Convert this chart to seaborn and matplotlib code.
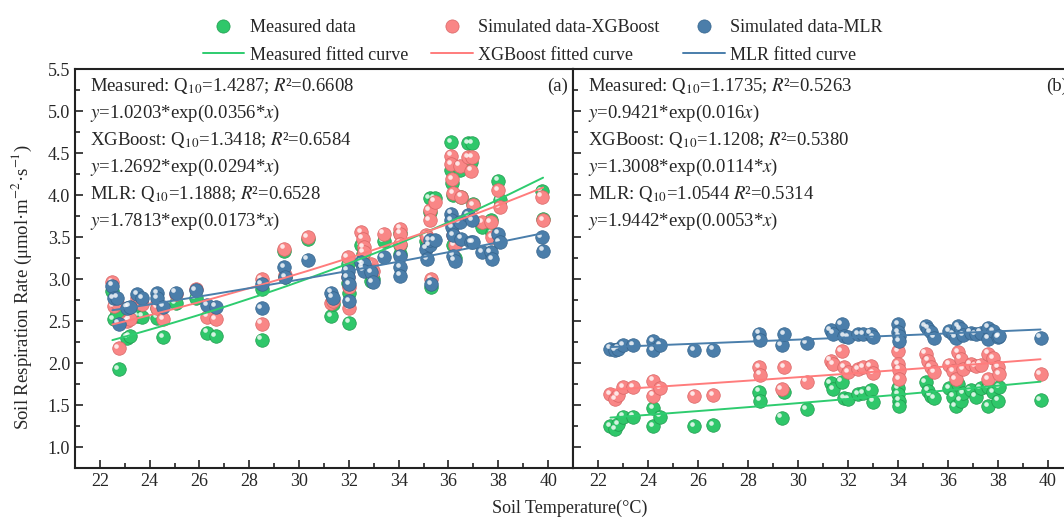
import numpy as np
import pandas as pd
import matplotlib
matplotlib.use('Agg')
import matplotlib.pyplot as plt
import matplotlib.transforms as mtransforms
from matplotlib.lines import Line2D
from matplotlib.ticker import MultipleLocator, FormatStrFormatter
import seaborn as sns

sns.set_style('ticks')
plt.rcParams['font.family'] = ['Liberation Serif', 'DejaVu Serif']
plt.rcParams['mathtext.fontset'] = 'stix'

# ---- panel (a): values ----
temp_a = [22.5, 22.55, 22.7, 22.75, 23.1, 23.2, 23.5, 23.7, 24.3, 24.3, 24.55, 25.05, 25.85,
          26.3, 26.65, 28.5, 28.5, 29.4, 29.45, 30.35, 31.3, 31.35, 31.95, 31.95, 32.0, 32.0,
          32.5, 32.55, 32.6, 32.6, 32.9, 32.95, 33.4, 34.05, 34.05, 34.05, 35.1, 35.15, 35.25,
          35.25, 35.3, 35.45, 36.1, 36.1, 36.15, 36.2, 36.2, 36.25, 36.45, 36.5, 36.8, 36.95,
          36.9, 37.0, 37.35, 37.7, 37.75, 38.0, 38.05, 39.75, 39.8]
meas_a = [2.86, 2.52, 2.60, 1.93, 2.30, 2.32, 2.56, 2.55, 2.65, 2.54, 2.31, 2.71, 2.77,
          2.36, 2.32, 2.88, 2.28, 3.33, 3.02, 3.48, 2.56, 2.70, 3.18, 2.95, 2.84, 2.48,
          3.40, 3.30, 3.20, 3.15, 2.98, 3.00, 3.45, 3.55, 3.40, 3.30, 3.45, 3.40, 3.96,
          3.80, 2.90, 3.96, 4.63, 4.30, 4.15, 4.00, 3.40, 3.25, 4.30, 3.98, 4.62, 4.62,
          4.40, 3.90, 3.62, 3.70, 3.55, 4.17, 3.94, 4.05, 3.72]
xgb_a = [2.96, 2.68, 2.72, 2.18, 2.50, 2.52, 2.78, 2.70, 2.71, 2.66, 2.52, 2.82, 2.88,
         2.55, 2.52, 3.00, 2.47, 3.36, 3.05, 3.50, 2.71, 2.74, 3.26, 3.02, 2.90, 2.65,
         3.56, 3.48, 3.38, 3.32, 3.18, 3.10, 3.54, 3.60, 3.54, 3.42, 3.52, 3.50, 3.82,
         3.70, 3.00, 3.92, 4.47, 4.37, 4.19, 4.02, 3.52, 3.40, 4.35, 3.98, 4.45, 4.45,
         4.29, 3.88, 3.68, 3.68, 3.50, 4.06, 3.86, 3.98, 3.70]
mlr_a = [2.92, 2.77, 2.78, 2.47, 2.66, 2.67, 2.82, 2.77, 2.83, 2.77, 2.67, 2.84, 2.87,
         2.69, 2.67, 2.94, 2.65, 3.14, 3.02, 3.23, 2.84, 2.78, 3.10, 3.02, 2.94, 2.74,
         3.20, 3.14, 3.18, 3.10, 3.08, 2.96, 3.26, 3.28, 3.14, 3.04, 3.36, 3.24, 3.40,
         3.46, 2.94, 3.46, 3.78, 3.70, 3.62, 3.52, 3.28, 3.22, 3.68, 3.48, 3.76, 3.70,
         3.44, 3.44, 3.32, 3.32, 3.24, 3.54, 3.44, 3.50, 3.34]

# ---- panel (b) ----
temp_b = [22.5, 22.7, 22.8, 23.0, 23.4, 24.2, 24.2, 24.5, 25.85, 26.6, 28.45, 28.5, 29.35,
          29.45, 30.35, 31.3, 31.4, 31.75, 31.85, 32.0, 32.4, 32.6, 32.9, 33.0, 34.0, 34.0,
          34.05, 34.05, 35.1, 35.2, 35.3, 35.45, 36.05, 36.2, 36.3, 36.4, 36.5, 36.6, 36.9,
          37.1, 37.3, 37.6, 37.6, 37.8, 38.0, 38.05, 39.7]
meas_b = [1.25, 1.21, 1.27, 1.36, 1.36, 1.46, 1.25, 1.36, 1.25, 1.26, 1.66, 1.55, 1.35,
          1.65, 1.45, 1.76, 1.69, 1.78, 1.58, 1.57, 1.63, 1.64, 1.68, 1.54, 1.70, 1.63,
          1.55, 1.49, 1.77, 1.67, 1.61, 1.58, 1.70, 1.60, 1.49, 1.75, 1.55, 1.64, 1.68,
          1.60, 1.70, 1.71, 1.49, 1.65, 1.55, 1.71, 1.56]
xgb_b = [1.63, 1.57, 1.62, 1.71, 1.71, 1.79, 1.61, 1.70, 1.61, 1.62, 1.95, 1.86, 1.69,
         1.95, 1.78, 2.03, 1.99, 2.14, 1.95, 1.89, 1.93, 1.95, 1.96, 1.88, 2.14, 1.99,
         1.92, 1.81, 2.11, 2.03, 1.95, 1.89, 1.98, 1.90, 1.81, 2.13, 2.05, 1.93, 1.99,
         1.96, 1.98, 2.11, 1.81, 2.06, 1.95, 1.87, 1.87]
mlr_b = [2.17, 2.15, 2.17, 2.21, 2.21, 2.26, 2.15, 2.21, 2.15, 2.16, 2.35, 2.28, 2.21,
         2.34, 2.24, 2.39, 2.35, 2.46, 2.32, 2.31, 2.34, 2.34, 2.35, 2.31, 2.46, 2.37,
         2.32, 2.26, 2.44, 2.41, 2.37, 2.30, 2.38, 2.34, 2.30, 2.44, 2.40, 2.33, 2.36,
         2.34, 2.36, 2.42, 2.29, 2.38, 2.31, 2.32, 2.30]

# fitted curve coefficients y = a*exp(b*x), order: measured, XGBoost, MLR
coef_a = [(1.0203, 0.0356), (1.2692, 0.0294), (1.7813, 0.0173)]
coef_b = [(0.9421, 0.016), (1.3008, 0.0114), (1.9442, 0.0053)]

notes_a = [r'Measured: Q$_{10}$=1.4287; $R$²=0.6608',
           r'$y$=1.0203*exp(0.0356*$x$)',
           r'XGBoost: Q$_{10}$=1.3418; $R$²=0.6584',
           r'$y$=1.2692*exp(0.0294*$x$)',
           r'MLR: Q$_{10}$=1.1888; $R$²=0.6528',
           r'$y$=1.7813*exp(0.0173*$x$)']
notes_b = [r'Measured: Q$_{10}$=1.1735; $R$²=0.5263',
           r'$y$=0.9421*exp(0.016$x$)',
           r'XGBoost: Q$_{10}$=1.1208; $R$²=0.5380',
           r'$y$=1.3008*exp(0.0114*$x$)',
           r'MLR: Q$_{10}$=1.0544 $R$²=0.5314',
           r'$y$=1.9442*exp(0.0053*$x$)']

point_colors = ['#2fc76a', '#f98686', '#4b7eaa']
edge_colors = ['#1f9a4e', '#d96565', '#35648c']
line_colors = ['#2ecc6f', '#ff7c7c', '#4a7eab']
point_labels = ['Measured data', 'Simulated data-XGBoost', 'Simulated data-MLR']
curve_labels = ['Measured fitted curve', 'XGBoost fitted curve', 'MLR fitted curve']

fig = plt.figure(figsize=(10.64, 5.2), dpi=100)
ax_a = fig.add_axes([0.0705, 0.1, 0.468, 0.767])
ax_b = fig.add_axes([0.5385, 0.1, 0.47, 0.767])


def draw_panel(ax, temp, series, coefs, notes, tag):
    df = pd.DataFrame({'temp': temp})
    hl = mtransforms.offset_copy(ax.transData, fig=fig, x=-1.7, y=1.7, units='points')
    for i, vals in enumerate(series):
        df['val'] = vals
        sns.scatterplot(data=df, x='temp', y='val', ax=ax, s=95, color=point_colors[i],
                        edgecolor=edge_colors[i], linewidth=0.5, legend=False, zorder=3 + 2 * i)
        ax.scatter(df['temp'], df['val'], s=11, color='white', alpha=0.8, linewidths=0,
                   transform=hl, zorder=4 + 2 * i)
    xs = np.sort(np.unique(temp))
    for i, (a, b) in enumerate(coefs):
        sns.lineplot(x=xs, y=a * np.exp(b * xs), ax=ax, color=line_colors[i], lw=1.4,
                     zorder=12, legend=False)
    for k, line in enumerate(notes):
        ax.text(0.03, 0.957 - k * 0.0677, line, transform=ax.transAxes, va='center',
                ha='left', fontsize=13.5)
    ax.text(0.99, 0.957, tag, transform=ax.transAxes, va='center', ha='right', fontsize=13.5)

    ax.set_xlim(21, 41)
    ax.set_ylim(0.75, 5.5)
    ax.xaxis.set_major_locator(MultipleLocator(2))
    ax.xaxis.set_minor_locator(MultipleLocator(1))
    ax.yaxis.set_major_locator(MultipleLocator(0.5))
    ax.yaxis.set_minor_locator(MultipleLocator(0.25))
    ax.tick_params(which='both', direction='in', top=False, right=False, labelsize=13,
                   width=1.2, color='#222222')
    ax.tick_params(which='major', length=6)
    ax.tick_params(which='minor', length=3.5)
    ax.set_xlabel('')
    ax.set_ylabel('')
    for sp in ax.spines.values():
        sp.set_visible(True)
        sp.set_linewidth(1.5)
        sp.set_color('#222222')


draw_panel(ax_a, temp_a, [meas_a, xgb_a, mlr_a], coef_a, notes_a, '(a)')
draw_panel(ax_b, temp_b, [meas_b, xgb_b, mlr_b], coef_b, notes_b, '(b)')
ax_a.yaxis.set_major_formatter(FormatStrFormatter('%.1f'))
ax_b.tick_params(labelleft=False)

fig.text(0.021, 0.448, r'Soil Respiration Rate (μmol·m$^{-2}$·s$^{-1}$)',
         rotation=90, va='center', ha='center', fontsize=13.5)
fig.text(0.535, 0.022, 'Soil Temperature(°C)', va='center', ha='center', fontsize=13)

handles = []
labels = []
for i in range(3):
    handles.append(Line2D([], [], marker='o', ls='none', markersize=9.5,
                          markerfacecolor=point_colors[i], markeredgecolor=edge_colors[i],
                          markeredgewidth=0.5))
    labels.append(point_labels[i])
    handles.append(Line2D([], [], color=line_colors[i], lw=1.4))
    labels.append(curve_labels[i])
fig.legend(handles, labels, ncol=3, loc='upper center', bbox_to_anchor=(0.510, 0.995),
           frameon=False, fontsize=13, handlelength=2.3, handletextpad=0.3,
           columnspacing=1.3, labelspacing=0.6, borderaxespad=0.5)

fig.savefig('out.png', dpi=100)
